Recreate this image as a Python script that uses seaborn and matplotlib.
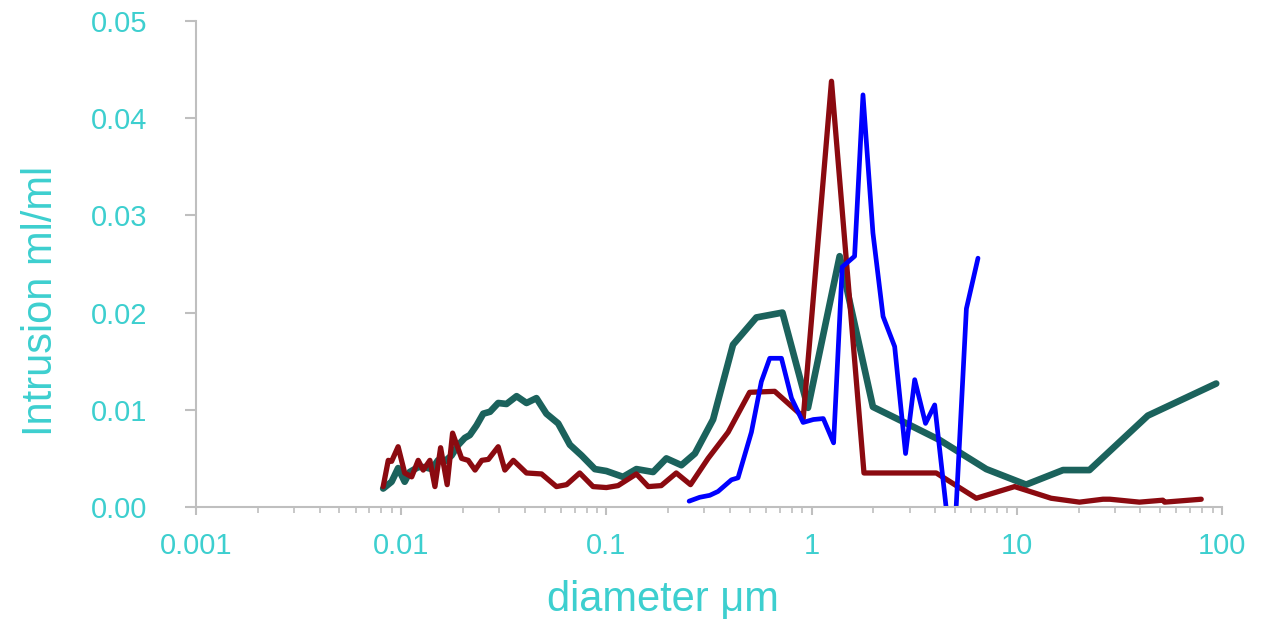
import numpy as np
import pandas as pd
import matplotlib
matplotlib.use("Agg")
import matplotlib.pyplot as plt
import matplotlib.ticker as mticker
import seaborn as sns

# ---- data ----
teal_d = [0.00817, 0.00898, 0.00966, 0.0104, 0.0110, 0.0121, 0.0130, 0.0141, 0.0151, 0.0163,
          0.0176, 0.0190, 0.0204, 0.0216, 0.0233, 0.0251, 0.0271, 0.0297, 0.0326, 0.0365,
          0.0408, 0.0456, 0.0510, 0.0582, 0.0664, 0.0757, 0.0879, 0.100, 0.1205, 0.140,
          0.169, 0.196, 0.232, 0.270, 0.331, 0.414, 0.538, 0.721, 0.960, 1.37,
          1.99, 2.9, 4.2, 7.1, 11.1, 16.8, 22.6, 43.5, 93.7]
teal_v = [0.0019, 0.0026, 0.0040, 0.0026, 0.0036, 0.0041, 0.0041, 0.0039, 0.0048, 0.0047,
          0.0053, 0.0064, 0.0071, 0.0074, 0.0084, 0.0096, 0.0098, 0.0107, 0.0106, 0.0114,
          0.0107, 0.0112, 0.0096, 0.0086, 0.0064, 0.0053, 0.0039, 0.0037, 0.0031, 0.0039,
          0.0036, 0.0050, 0.0043, 0.0055, 0.0090, 0.0167, 0.0195, 0.0200, 0.0102, 0.0258,
          0.0103, 0.0086, 0.0069, 0.0039, 0.0023, 0.0038, 0.0038, 0.0094, 0.0127]

red_d = [0.00817, 0.00865, 0.00898, 0.00966, 0.0104, 0.01125, 0.0121, 0.0128, 0.0138, 0.0146,
         0.01556, 0.01675, 0.0178, 0.0197, 0.0212, 0.0229, 0.0247, 0.0266, 0.0297, 0.0320,
         0.0352, 0.0408, 0.0483, 0.0571, 0.0640, 0.0741, 0.0861, 0.100, 0.114, 0.140,
         0.160, 0.185, 0.219, 0.257, 0.313, 0.392, 0.499, 0.661, 0.875, 0.91,
         1.25, 1.80, 2.54, 4.05, 6.35, 9.76, 14.7, 20.2, 26.3, 28.4,
         39.6, 51.5, 52.5, 79.2]
red_v = [0.0021, 0.0048, 0.0047, 0.0062, 0.0035, 0.0031, 0.0048, 0.0038, 0.0048, 0.0021,
         0.0061, 0.0023, 0.0076, 0.0050, 0.0048, 0.0038, 0.0048, 0.0049, 0.0062, 0.0038,
         0.0048, 0.0035, 0.0034, 0.0021, 0.0023, 0.0035, 0.0021, 0.0020, 0.0022, 0.0034,
         0.0021, 0.0022, 0.0035, 0.0023, 0.0050, 0.0077, 0.0118, 0.0119, 0.0096, 0.0091,
         0.0438, 0.0035, 0.0035, 0.0035, 0.0009, 0.0021, 0.0009, 0.0005, 0.0008, 0.0008,
         0.0005, 0.0007, 0.0005, 0.0008]

blue_d = [0.253, 0.285, 0.319, 0.350, 0.407, 0.438, 0.509, 0.569, 0.625, 0.713,
          0.798, 0.909, 1.02, 1.14, 1.28, 1.41, 1.62, 1.78, 1.99, 2.23,
          2.54, 2.87, 3.18, 3.59, 3.98, 4.55, 5.05, 5.68, 6.47]
blue_v = [0.0006, 0.0010, 0.0012, 0.0016, 0.0028, 0.0030, 0.0077, 0.0129, 0.0153, 0.0153,
          0.0112, 0.0087, 0.0090, 0.0091, 0.0066, 0.0247, 0.0258, 0.0424, 0.0282, 0.0196,
          0.0165, 0.0055, 0.0131, 0.0086, 0.0105, -0.0005, -0.0005, 0.0204, 0.0256]

x_ticks = [0.001, 0.01, 0.1, 1, 10, 100]
x_tick_labels = ["0.001", "0.01", "0.1", "1", "10", "100"]
y_ticks = [0.00, 0.01, 0.02, 0.03, 0.04, 0.05]
y_tick_labels = ["0.00", "0.01", "0.02", "0.03", "0.04", "0.05"]

# ---- styling ----
sns.set_theme(style="white")
plt.rcParams['font.family'] = ['Liberation Sans', 'DejaVu Sans']
TXT = "#3DCFCF"
SPINE = "#BFBFBF"

fig = plt.figure(figsize=(12.61, 6.26), dpi=100)
ax = fig.add_axes([196/1261, 1 - 507/626, (1222 - 196)/1261, (507 - 21)/626])

teal = pd.DataFrame({"d": teal_d, "v": teal_v})
red = pd.DataFrame({"d": red_d, "v": red_v})
blue = pd.DataFrame({"d": blue_d, "v": blue_v})

sns.lineplot(data=teal, x="d", y="v", sort=False, estimator=None, color="#1B625C",
             linewidth=4.8, ax=ax)
sns.lineplot(data=red, x="d", y="v", sort=False, estimator=None, color="#8B0A10",
             linewidth=3.8, ax=ax)
sns.lineplot(data=blue, x="d", y="v", sort=False, estimator=None, color="#0000FF",
             linewidth=3.4, ax=ax)

ax.set_xscale("log")
ax.set_xlim(0.001, 100)
ax.set_ylim(0, 0.05)
ax.set_xticks(x_ticks)
ax.set_xticklabels(x_tick_labels)
ax.set_yticks(y_ticks)
ax.set_yticklabels(y_tick_labels)
ax.xaxis.set_minor_locator(mticker.LogLocator(base=10, subs=np.arange(2, 10)))
ax.xaxis.set_minor_formatter(mticker.NullFormatter())

for s in ["top", "right"]:
    ax.spines[s].set_visible(False)
for s in ["left", "bottom"]:
    ax.spines[s].set_color(SPINE)
    ax.spines[s].set_linewidth(1.5)

ax.tick_params(axis="both", which="major", colors=SPINE, labelcolor=TXT,
               labelsize=21, width=1.5, direction="out")
ax.tick_params(axis="y", which="major", length=8, pad=27, left=True)
ax.tick_params(axis="x", which="major", length=6, pad=12, bottom=True)
ax.tick_params(axis="x", which="minor", length=4, width=1.2, colors=SPINE, bottom=True)

ax.set_xlabel("diameter \u03bcm", fontsize=30, color=TXT)
ax.set_ylabel("Intrusion ml/ml", fontsize=30, color=TXT)
ax.xaxis.set_label_coords(0.4552, -0.150)
ax.yaxis.set_label_coords(-0.1316, 0.424)
ax.grid(False)

fig.savefig("out.png", dpi=100, facecolor="white")
